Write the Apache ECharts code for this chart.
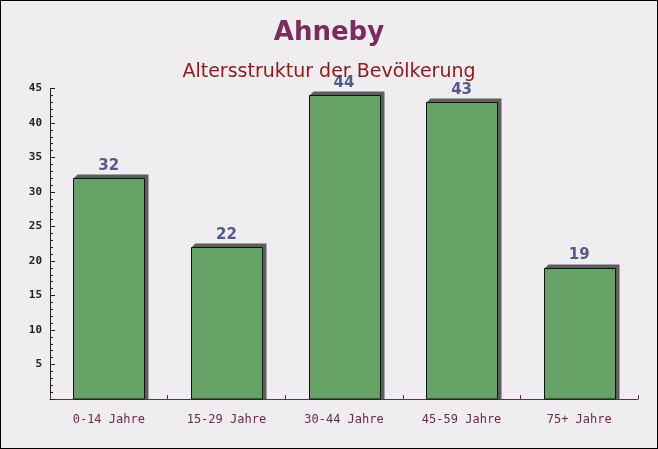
<!DOCTYPE html>
<html><head><meta charset="utf-8">
<script src="https://cdn.jsdelivr.net/npm/echarts@6/dist/echarts.min.js"></script>
<style>html,body{margin:0;padding:0;}#c{width:658px;height:449px;box-sizing:border-box;border:1px solid #000;background:#efedf0;}</style>
</head><body><div id="c"></div>
<script>
const categories = ['0-14 Jahre','15-29 Jahre','30-44 Jahre','45-59 Jahre','75+ Jahre'];
const values = [32, 22, 44, 43, 19];
const yTicks = [5,10,15,20,25,30,35,40,45];
const titleText = 'Ahneby';
const subtitleText = 'Altersstruktur der Bevölkerung';

const BAR_W = 71, DEPTH = 4;
const chart = echarts.init(document.getElementById('c'), null, {renderer:'canvas'});
chart.setOption({
  backgroundColor: '#efedf0',
  animation: false,
  title: [
    {text: titleText, left: 'center', top: 14, textStyle:{fontFamily:'DejaVu Sans', fontWeight:'bold', fontSize:26, color:'#7a2d5c'}},
    {text: subtitleText, left: 'center', top: 57, textStyle:{fontFamily:'DejaVu Sans', fontWeight:'normal', fontSize:19, color:'#8b1a1a'}}
  ],
  grid: {left: 49, right: 19, top: 87.5, bottom: 49, containLabel: false},
  xAxis: {
    type: 'category', data: categories,
    axisLine: {lineStyle:{color:'#6b2a4a', width:1}},
    axisTick: {show:true, inside:true, length:4, lineStyle:{color:'#6b2a4a'}},
    axisLabel: {fontFamily:'DejaVu Sans Mono', fontSize:12, color:'#6b2a4a', margin:15}
  },
  yAxis: {
    type: 'value', min: 0, max: 45, interval: 5,
    axisLine: {show:true, lineStyle:{color:'#222', width:1}},
    axisTick: {show:true, inside:true, length:5, lineStyle:{color:'#222'}},
    minorTick: {show:true, splitNumber:5, length:3, lineStyle:{color:'#222'}},
    splitLine: {show:false},
    axisLabel: {fontFamily:'DejaVu Sans Mono', fontWeight:'bold', fontSize:11, color:'#222', margin:8,
      formatter: v => (v === 0 ? '' : (yTicks.includes(v) ? String(v) : ''))}
  },
  series: [{
    type: 'custom', data: values,
    renderItem: function(params, api){
      const top = api.coord([api.value(0), api.value(1)]);
      const base = api.coord([api.value(0), 0]);
      const x0 = Math.round(top[0] - BAR_W/2) + 0.5, x1 = x0 + BAR_W;
      const y0 = Math.round(top[1]) + 0.5, yb = base[1];
      return {type:'group', children:[
        {type:'polygon', shape:{points:[[x0,y0],[x0+DEPTH,y0-DEPTH],[x1+DEPTH,y0-DEPTH],[x1+DEPTH,yb],[x1,yb]]},
          style:{fill:'#5e5e5e'}},
        {type:'rect', shape:{x:x0, y:y0, width:BAR_W, height:yb-y0},
          style:{fill:'#66a266', stroke:'#111', lineWidth:1}}
      ]};
    },
    encode: {x: 0, y: 1},
    z: 2
  }, {
    type: 'bar', data: values, barWidth: BAR_W, silent: true, z: 3,
    itemStyle: {color:'rgba(0,0,0,0)'},
    label: {show:true, position:'top', distance:5, fontFamily:'DejaVu Sans', fontWeight:'bold', fontSize:15, color:'#545a8c'}
  }]
});
</script></body></html>
